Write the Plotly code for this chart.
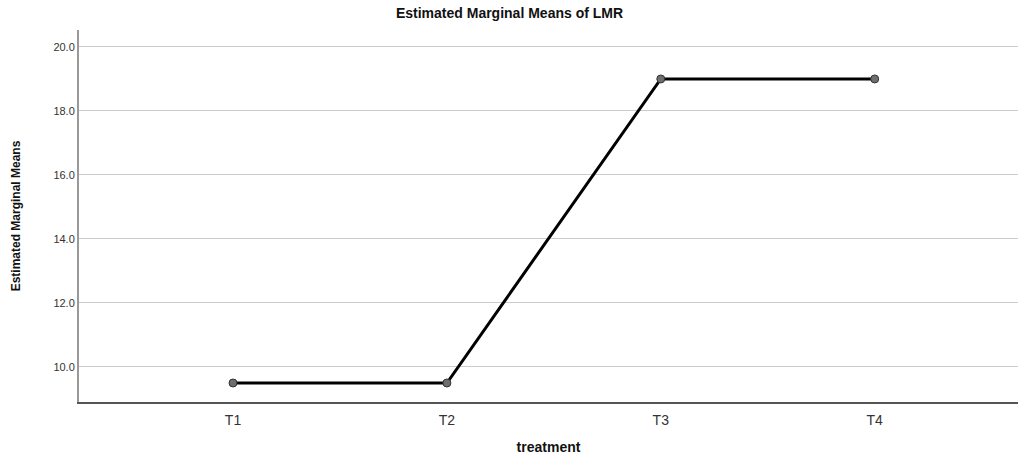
import plotly.graph_objects as go

categories = ["T1", "T2", "T3", "T4"]
means = [9.5, 9.5, 19.0, 19.0]
y_ticks = [10.0, 12.0, 14.0, 16.0, 18.0, 20.0]
y_tick_text = ["10.0", "12.0", "14.0", "16.0", "18.0", "20.0"]

fig = go.Figure()
fig.add_trace(go.Scatter(
    x=list(range(len(categories))), y=means, mode="lines+markers",
    line=dict(color="black", width=3),
    marker=dict(size=8, color="#6e6e6e", line=dict(color="#333333", width=1)),
    showlegend=False,
))

fig.update_layout(
    width=1019, height=455,
    margin=dict(l=79, r=1, t=30, b=53, autoexpand=False),
    plot_bgcolor="white", paper_bgcolor="white",
    font=dict(family="Liberation Sans, Arial, sans-serif", color="#222222"),
    title=dict(text="<b>Estimated Marginal Means of LMR</b>", x=0.5, xanchor="center",
               y=0.972, yanchor="middle", font=dict(size=14, color="#111111")),
)
fig.update_xaxes(
    range=[-0.72, 3.67], tickmode="array", tickvals=list(range(len(categories))),
    ticktext=categories, showgrid=False, zeroline=False, automargin=False,
    showline=True, linecolor="#555555", linewidth=1.5,
    ticks="", tickfont=dict(size=14, color="#333333"), ticklabelstandoff=4,
    title=dict(text="<b>treatment</b>", font=dict(size=14, color="#111111"), standoff=19),
)
fig.update_yaxes(
    range=[8.906, 20.53], tickmode="array", tickvals=y_ticks, ticktext=y_tick_text,
    showgrid=True, gridcolor="#cccccc", gridwidth=1, zeroline=False, automargin=False,
    showline=True, linecolor="#999999", linewidth=2,
    ticks="", tickfont=dict(size=11, color="#333333"),
    title=dict(text="<b>Estimated Marginal Means</b>",
               font=dict(size=12, color="#111111", family="Liberation Sans Narrow, Arial Narrow, sans-serif"),
               standoff=30),
)

fig.write_html(
    "out.html",
    config={"displayModeBar": False},
    post_script="document.body.style.margin='0';document.body.style.overflow='hidden';",
)
